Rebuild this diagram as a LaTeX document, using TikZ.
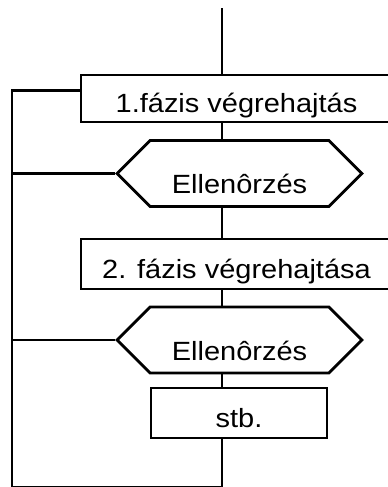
\documentclass[tikz,border=0pt]{standalone}
\usepackage{fontspec}
\setmainfont{Liberation Sans}[FakeStretch=1.1]
\usetikzlibrary{shapes.symbols}

\begin{document}
\begin{tikzpicture}[x=0.02cm, y=-0.02cm, line width=1.6pt,
    font=\fontsize{15}{18}\selectfont,
    phasebox/.style={draw, fill=white, inner sep=0pt, minimum width=6.22cm,
        minimum height=1cm, text height=0.56cm, text depth=0pt},
    checkbox/.style={draw, fill=white, shape=signal, signal to=west and east,
        signal pointer angle=90, inner sep=0pt, minimum width=4.9cm,
        minimum height=1.32cm, text height=0.8cm, text depth=0pt}]
    % Page frame
    \useasboundingbox (0,0) rectangle (388,487);
    \clip (0,0) rectangle (388,487);

    % Steps
    \node[phasebox, minimum height=0.94cm] (phase1) at (236.5,98.5) {1.fázis végrehajtás};
    \node[checkbox] (check1) at (239.5,173.5) {Ellenôrzés};
    \node[phasebox] (phase2) at (236.5,264) {2. fázis végrehajtása};
    \node[checkbox] (check2) at (239.5,340) {Ellenôrzés};
    \node[phasebox, minimum width=3.52cm] (etc) at (239,413) {stb.};

    % Main line
    \coordinate (start) at (222,8);
    \coordinate (end) at (222,487);
    \coordinate (loop) at (12,487);
    \draw (start) -- (start |- phase1.north);
    \draw (phase1.south -| start) -- (start |- check1.north);
    \draw (check1.south -| start) -- (start |- phase2.north);
    \draw (phase2.south -| start) -- (start |- check2.north);
    \draw (check2.south -| start) -- (start |- etc.north);
    \draw (etc.south -| start) -- (end);

    % Return line on the left
    \draw ([yshift=0.156cm]phase1.west) -| (loop) -- (end);
    \draw (check1.west) -- (check1.west -| loop);
    \draw (check2.west) -- (check2.west -| loop);
\end{tikzpicture}
\end{document}
